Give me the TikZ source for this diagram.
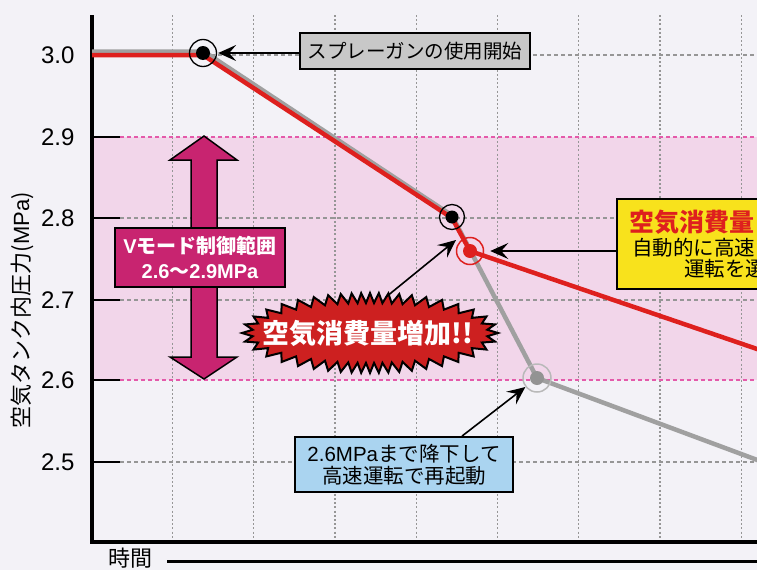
\documentclass[tikz,border=0pt]{standalone}
\usepackage{fontspec}
\setmainfont{Liberation Sans}
\newfontfamily\jp{Noto Sans CJK JP}
\newfontfamily\lat{Liberation Sans}
\usetikzlibrary{arrows.meta}
\definecolor{bgc}{RGB}{243,242,247}
\definecolor{bandc}{RGB}{242,214,234}
\definecolor{pinkdash}{RGB}{228,90,170}
\definecolor{gridc}{RGB}{150,150,150}
\definecolor{redl}{RGB}{222,32,30}
\definecolor{grayl}{RGB}{160,160,160}
\definecolor{magc}{RGB}{200,36,112}
\definecolor{yelc}{RGB}{248,226,28}
\definecolor{bluec}{RGB}{170,212,240}
\definecolor{boxgray}{RGB}{200,200,200}
\definecolor{burstc}{RGB}{205,32,32}
\begin{document}
\begin{tikzpicture}[x=1pt,y=-1pt,
  tickmark/.style={line width=2.5pt, black},
  gridv/.style={gridc, line width=1.1pt, dash pattern=on 2pt off 2.2pt},
  gridh/.style={gridc, line width=1.3pt, dash pattern=on 4pt off 3pt},
  pinkline/.style={pinkdash, line width=1.6pt, dash pattern=on 4pt off 3pt},
  callarrow/.style={-{Stealth[length=18pt,width=16pt,inset=7pt]}, line width=1.6pt, black},
  ring/.style={circle, draw, line width=1.3pt, minimum size=27pt, inner sep=0pt},
  dotm/.style={circle, inner sep=0pt, minimum size=14pt},
  tlabel/.style={anchor=east, font=\fontsize{24}{28}\selectfont},
  labelbox/.style={draw=black, line width=1.8pt, inner sep=0pt, align=center}
]
\useasboundingbox (0,0) rectangle (757,570);
\clip (0,0) rectangle (757,570);
\fill[bgc] (0,0) rectangle (757,570);
\fill[bandc] (92,137) rectangle (757,380);
% grid
\foreach \gx in {172.5,253.8,335,416.3,497.5,578.8,660,741.3} \draw[gridv] (\gx,15) -- (\gx,542);
\foreach \gy in {55,218,300,462} \draw[gridh] (120,\gy) -- (757,\gy);
\foreach \gy in {137,380} \draw[pinkline] (120,\gy) -- (757,\gy);
% ticks and axes
\foreach \gy in {137,218,300,380,462} \draw[tickmark] (92,\gy) -- (120,\gy);
\draw[line width=3.5pt] (92,15) -- (92,542) -- (760,542);
% tick labels
\node[tlabel] (t30) at (78,55) {3.0};
\node[tlabel] (t29) at (78,137) {2.9};
\node[tlabel] (t28) at (78,218) {2.8};
\node[tlabel] (t27) at (78,300) {2.7};
\node[tlabel] (t26) at (78,380) {2.6};
\node[tlabel] (t25) at (78,462) {2.5};
\node[rotate=90, font=\jp\fontsize{22}{24}\selectfont] (ylab) at (22,310) {空気タンク内圧力({\lat MPa})};
\node[font=\jp\fontsize{22}{24}\selectfont, inner sep=0pt] (tlab) at (130,558) {時間};
\coordinate (tend) at (760,561);
\draw[line width=3pt] ([xshift=15pt]tlab.east |- tend) -- (tend);
% magenta double arrow
\filldraw[fill=magc, draw=black, line width=1.5pt] (204,136) -- (237,160) -- (217,160) -- (217,357) -- (237,357) -- (204,379) -- (170,357) -- (191,357) -- (191,160) -- (170,160) -- cycle;
\node[labelbox, fill=magc, minimum width=170pt, minimum height=59pt, text=white, font=\jp\bfseries\fontsize{20}{25}\selectfont] (vbox) at (200,257.5) {{\lat\bfseries V}モード制御範囲\\{\lat\bfseries 2.6}〜{\lat\bfseries 2.9MPa}};
% pressure lines
\draw[grayl, line width=4.5pt, line join=round] (92,51.5) -- (204,51.5) -- (452,215.5) -- (537,378) -- (760,461);
\draw[redl, line width=4.5pt, line join=round] (92,55) -- (203,55) -- (452,218) -- (470,251) -- (760,350);
% markers
\node[ring] (p1) at (203,53) {};
\node[dotm, fill=black] (p1d) at (p1) {};
\node[ring, minimum size=25pt] (p2) at (452,217) {};
\node[dotm, fill=black, minimum size=13pt] (p2d) at (p2) {};
\node[ring, draw=redl, line width=1.5pt] (p3) at (470,251) {};
\node[dotm, fill=redl] (p3d) at (p3) {};
\node[ring, draw=gray!55, line width=1.5pt, minimum size=28pt] (p4) at (537,378) {};
\node[dotm, fill=gray!85] (p4d) at (p4) {};
% gray callout
\node[labelbox, fill=boxgray, minimum width=230pt, minimum height=36pt, font=\jp\fontsize{19.5}{22}\selectfont] (gbox) at (415,51) {スプレーガンの使用開始};
\draw[callarrow, shorten >=1pt] (gbox.west |- p1) -- (p1.east);
% yellow callout
\node[draw=black, line width=1.8pt, fill=yelc, minimum width=200pt, minimum height=90pt, anchor=west, inner sep=0pt] (ybox) at (616,244) {};
\node[anchor=west, text=redl, font=\jp\bfseries\fontsize{25}{28}\selectfont, inner sep=0pt] (yl1) at (629,222) {空気消費量};
\node[anchor=west, font=\jp\fontsize{20.5}{24}\selectfont, inner sep=0pt] (yl2) at (632,248) {自動的に高速};
\node[anchor=west, font=\jp\fontsize{20.5}{24}\selectfont, inner sep=0pt] (yl3) at (684,269) {運転を選};
\draw[callarrow, shorten >=6pt] (ybox.west |- p3) -- (p3.east);
% blue callout
\node[labelbox, fill=bluec, minimum width=218pt, minimum height=55pt, font=\jp\fontsize{20.5}{22}\selectfont] (bbox) at (404,464.5) {{\lat 2.6MPa}まで降下して\\高速運転で再起動};
\draw[callarrow] ([xshift=58pt]bbox.north) -- (p4);
% starburst
\filldraw[fill=burstc, draw=black, line width=2pt, line join=miter] plot[samples=89, domain=0:360] ({370+(123+5*cos(44*\x))*cos(\x+15*sin(2*\x))}, {333+(35+5*cos(44*\x))*sin(\x+15*sin(2*\x))}) -- cycle;
\node[text=white, font=\jp\bfseries\fontsize{27}{30}\selectfont] (burst) at (368,333) {空気消費量増加!!};
\coordinate (bstart) at (386,297);
\coordinate (btarget) at (456,240);
\draw[callarrow] (bstart) -- (btarget);
\end{tikzpicture}
\end{document}
